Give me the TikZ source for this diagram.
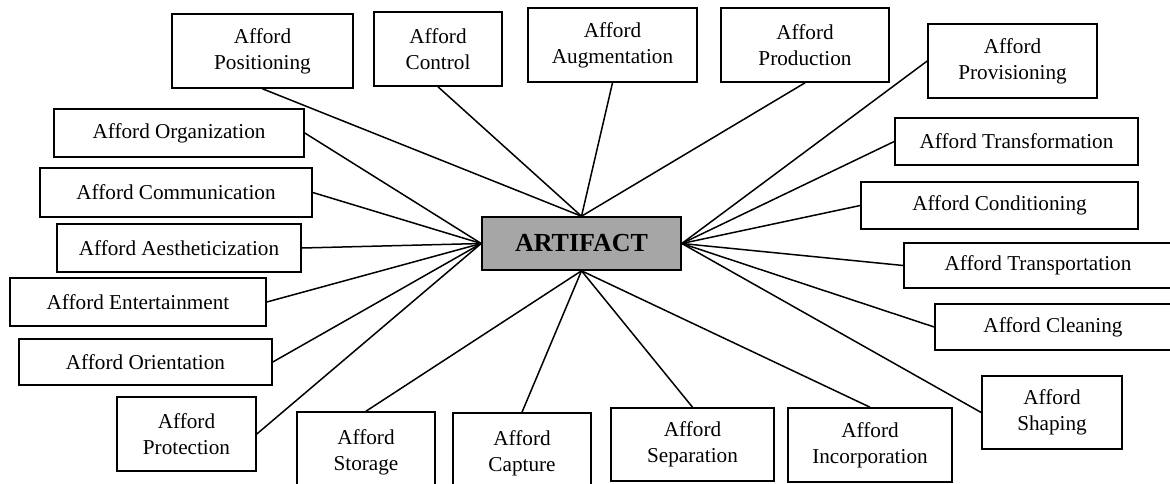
\documentclass[tikz,border=0pt]{standalone}
\usepackage{fontspec}
\setmainfont{Liberation Serif}
\definecolor{artgray}{HTML}{A6A6A6}
\tikzset{
  box/.style={draw=black, line width=0.8pt, fill=white, rectangle, inner sep=0pt,
    align=center, font=\fontsize{10.6}{13}\selectfont},
  hub/.style={draw=black, line width=0.8pt, fill=artgray, rectangle, inner sep=0pt,
    font=\fontsize{13}{15}\selectfont\bfseries},
  link/.style={draw=black, line width=0.75pt}
}
\begin{document}
\begin{tikzpicture}[x=0.5pt,y=-0.5pt]
\useasboundingbox (0,0) rectangle (1170,483);
\clip (0,0) rectangle (1170,483);
% hub
\node[hub, minimum width=99.5pt, minimum height=26.5pt] (art) at (581.5,243.5) {ARTIFACT};
% top
\node[box, minimum width=90.5pt, minimum height=37pt] (pos) at (262.5,51) {Afford\\Positioning};
\node[box, minimum width=64pt, minimum height=37pt] (con) at (438,49) {Afford\\Control};
\node[box, minimum width=84.5pt, minimum height=37pt] (aug) at (612.5,45) {Afford\\Augmentation};
\node[box, minimum width=84pt, minimum height=37pt] (pro) at (805,45) {Afford\\Production};
% right
\node[box, minimum width=84.5pt, minimum height=37pt] (prv) at (1012.5,61) {Afford\\Provisioning};
\node[box, minimum width=121.5pt, minimum height=23.5pt] (trf) at (1016.5,141.5) {Afford Transformation};
\node[box, minimum width=138.5pt, minimum height=23.5pt] (cnd) at (999.5,205.5) {Afford Conditioning};
\node[box, minimum width=134pt, minimum height=22.5pt] (trp) at (1038,265.5) {Afford Transportation};
\node[box, minimum width=118pt, minimum height=23pt] (cln) at (1053,327) {Afford Cleaning};
\node[box, minimum width=70pt, minimum height=36.5pt] (shp) at (1052,412.5) {Afford\\Shaping};
% bottom
\node[box, minimum width=82pt, minimum height=37pt] (inc) at (870,445) {Afford\\Incorporation};
\node[box, minimum width=81.5pt, minimum height=36.5pt] (sep) at (692.5,444.5) {Afford\\Separation};
\node[box, minimum width=69pt, minimum height=40pt] (cap) at (522,453) {Afford\\Capture};
\node[box, minimum width=69pt, minimum height=40pt] (sto) at (366,452) {Afford\\Storage};
% left
\node[box, minimum width=69.5pt, minimum height=37pt] (prt) at (186.5,434) {Afford\\Protection};
\node[box, minimum width=126.5pt, minimum height=23pt] (ori) at (145.5,362) {Afford Orientation};
\node[box, minimum width=128pt, minimum height=24pt] (ent) at (138,302) {Afford Entertainment};
\node[box, minimum width=122pt, minimum height=24pt] (aes) at (179,248) {Afford Aestheticization};
\node[box, minimum width=136pt, minimum height=24.5pt] (com) at (176,192.5) {Afford Communication};
\node[box, minimum width=125pt, minimum height=24pt] (org) at (179,133) {Afford Organization};
% connectors
\foreach \n in {pos,con,aug,pro} \draw[link] (\n.south) -- (art.north);
\foreach \n in {prv,trf,cnd,trp,cln,shp} \draw[link] (\n.west) -- (art.east);
\foreach \n in {inc,sep,cap,sto} \draw[link] (\n.north) -- (art.south);
\foreach \n in {prt,ori,ent,aes,com,org} \draw[link] (\n.east) -- (art.west);
\end{tikzpicture}
\end{document}
